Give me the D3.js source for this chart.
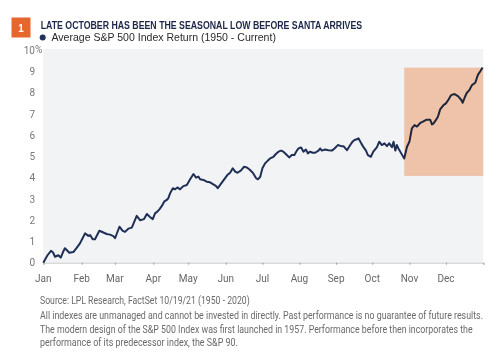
<!DOCTYPE html>
<html><head><meta charset="utf-8">
<script src="https://cdn.jsdelivr.net/npm/d3@7"></script>
<style>
html,body{margin:0;padding:0;background:#fff;}
svg{display:block;}
</style>
</head><body>
<svg id="chart" width="499" height="354"></svg>
<script>
const tradingDay = [0,2.4,4.4,5.6,6.7,8.6,10.0,11.3,12.4,13.4,14.9,17.2,19.1,21.0,22.5,23.9,25.8,26.8,28.3,29.6,32.1,34.4,36.3,38.2,40.1,41.1,43.6,45.5,46.8,48.7,50.7,53.5,55.4,57.7,59.3,61.1,62.7,64.0,65.3,66.5,67.9,69.2,70.7,71.6,72.6,74.2,75.5,76.8,78.3,80.2,82.2,84.1,86.0,87.5,88.8,89.8,91.7,93.6,95.5,97.4,99.0,99.9,101.3,103.6,105.4,107.0,108.5,109.9,111.2,113.1,115.0,116.6,118.1,120.0,121.9,122.9,124.2,125.5,127.0,128.6,129.9,131.8,133.2,134.7,136.2,137.5,138.9,140.8,142.3,143.8,145.2,146.1,147.7,149.0,150.4,151.5,152.8,154.2,155.7,157.6,158.6,159.5,161.4,163.3,165.3,166.8,168.7,170.6,171.9,173.9,175.8,177.1,178.2,179.6,180.5,182.1,183.4,184.8,185.9,187.6,189.0,191.1,192.4,193.9,195.4,196.8,198.1,199.7,200.6,201.6,202.5,203.4,205.0,206.7,208.3,209.7,211.1,212.6,214.0,215.9,217.2,219.3,221.6,222.6,223.5,224.8,226.0,227.3,229.2,230.6,232.1,233.6,235.5,237.5,239.4,240.2,241.5,242.6,243.9,245.5,247.4,248.9,250.3,251.6];
const avgReturn = [0,0.35,0.56,0.48,0.28,0.35,0.24,0.5,0.68,0.6,0.47,0.5,0.7,0.91,1.15,1.38,1.26,1.3,1.1,1.1,1.5,1.42,1.35,1.32,1.25,1.15,1.69,1.5,1.45,1.6,1.65,2.2,2.0,2.05,2.29,2.15,2.05,2.32,2.4,2.51,2.67,2.87,2.95,3.03,3.26,3.5,3.45,3.54,3.45,3.6,3.65,3.92,4.17,4.0,4.05,3.92,3.89,3.81,3.78,3.68,3.6,3.5,3.66,3.92,4.12,4.23,4.44,4.28,4.23,4.33,4.51,4.48,4.38,4.23,3.97,3.92,4.03,4.44,4.67,4.8,4.9,4.98,5.11,5.22,5.27,5.22,5.11,4.95,5.06,5.06,5.27,5.37,5.42,5.22,5.32,5.14,5.22,5.17,5.17,5.27,5.37,5.27,5.32,5.29,5.27,5.37,5.53,5.48,5.48,5.29,5.53,5.69,5.77,5.8,5.85,5.61,5.43,5.27,5.06,4.98,5.22,5.43,5.69,5.53,5.61,5.48,5.61,5.43,5.69,5.27,5.53,5.37,5.14,4.9,5.45,5.69,6.32,6.47,6.4,6.57,6.62,6.72,6.72,6.5,6.55,6.7,6.86,7.21,7.41,7.49,7.67,7.88,7.93,7.83,7.65,7.52,7.8,7.99,8.1,8.35,8.46,8.83,9.0,9.18];
const monthLabels = ["Jan","Feb","Mar","Apr","May","Jun","Jul","Aug","Sep","Oct","Nov","Dec"];
const monthStartDay = [0,22,41,63,83,104.5,125.5,146.7,167.7,188.4,209.7,230.6];
const yearEndDay = 252;
const yTicks = [0,1,2,3,4,5,6,7,8,9,10];
const highlightDays = [206.7, 252];
const highlightRange = [4.08, 9.17];
const titleText = "LATE OCTOBER HAS BEEN THE SEASONAL LOW BEFORE SANTA ARRIVES";
const legendText = "Average S&P 500 Index Return (1950 - Current)";
const footerLines = [
  "Source: LPL Research, FactSet  10/19/21 (1950 - 2020)",
  "All indexes are unmanaged and cannot be invested in directly. Past performance is no guarantee of future results.",
  "The modern design of the S&P 500 Index was first launched in 1957. Performance before then incorporates the",
  "performance of its  predecessor index, the S&P 90."
];

const svg = d3.select("#chart");
const x = d3.scaleLinear().domain([0, yearEndDay]).range([43.3, 483.3]);
const y = d3.scaleLinear().domain([0, 10]).range([262.7, 50]);

// horizontally fit a text element to a target width via scale transform
function fitText(sel, tx, ty, target) {
  const w = sel.node().getComputedTextLength();
  const s = w > 0 ? target / w : 1;
  sel.attr("transform", `translate(${tx},${ty}) scale(${s},1)`);
}

// header
svg.append("rect").attr("x",11.5).attr("y",17.5).attr("width",19).attr("height",20).attr("fill","#E5672E");
svg.append("text").attr("x",21).attr("y",31.5).attr("text-anchor","middle")
  .attr("font-family","Liberation Sans, Arial, sans-serif").attr("font-weight","bold").attr("font-size",10)
  .attr("fill","#fff").text("1");
const title = svg.append("text")
  .attr("font-family","Liberation Sans, Arial, sans-serif").attr("font-weight","bold").attr("font-size",10)
  .attr("fill","#1c2648").text(titleText);
fitText(title, 40.7, 28.5, 322);
svg.append("circle").attr("cx",42.7).attr("cy",37.5).attr("r",3).attr("fill","#1f3157");
const legend = svg.append("text")
  .attr("font-family","Liberation Sans, Arial, sans-serif").attr("font-size",11)
  .attr("fill","#2a2a2a").text(legendText);
fitText(legend, 51.5, 41, 224.5);

// plot background
svg.append("rect").attr("x",x(0)).attr("y",y(10)-1).attr("width",x(yearEndDay)-x(0)).attr("height",y(0)-y(10)+1)
  .attr("fill","#F2F3F5");

// y axis labels
const yAxis = d3.axisLeft(y).tickValues(yTicks).tickSize(0).tickPadding(0).tickFormat(d3.format("d"));
const gy = svg.append("g").attr("transform","translate(35,0)").call(yAxis);
gy.select(".domain").remove();
gy.selectAll("text").attr("font-family","Roboto, sans-serif").attr("font-size",10).attr("fill","#777");
svg.append("text").attr("x",35).attr("y",y(10)).attr("dy","0.32em")
  .attr("font-family","Roboto, sans-serif").attr("font-size",10).attr("fill","#777").text("%");

// x axis
const xAxis = d3.axisBottom(x).tickValues(monthStartDay.concat([yearEndDay])).tickSize(2).tickPadding(0).tickFormat(() => "");
const gx = svg.append("g").attr("transform",`translate(0,${y(0)})`).call(xAxis);
gx.select(".domain").attr("stroke","#c8c8c8").attr("stroke-width",1);
gx.selectAll(".tick line").attr("stroke","#999");
svg.append("g").selectAll("text").data(monthLabels).join("text")
  .attr("x",(d,i)=>x(monthStartDay[i])).attr("y",281.5).attr("text-anchor","middle")
  .attr("font-family","Roboto, sans-serif").attr("font-size",10).attr("fill","#666").text(d=>d);

// line
const pts = tradingDay.map((d,i)=>[d, avgReturn[i]]);
const line = d3.line().x(d=>x(d[0])).y(d=>y(d[1]));
svg.append("path").datum(pts).attr("d",line).attr("fill","none")
  .attr("stroke","#1f2f55").attr("stroke-width",2).attr("stroke-linejoin","round");

// highlight
svg.append("rect").attr("x",x(highlightDays[0])).attr("y",y(highlightRange[1]))
  .attr("width",x(highlightDays[1])-x(highlightDays[0])).attr("height",y(highlightRange[0])-y(highlightRange[1]))
  .attr("fill","#FBCDB1").style("mix-blend-mode","multiply");

// footer
const fy = [303.5, 319, 332.5, 345.5];
const fw = [210, 444, 433, 198];
const fg = svg.append("g");
footerLines.forEach((t,i) => {
  const el = fg.append("text")
    .attr("font-family","Roboto, sans-serif").attr("font-size",10.5).attr("fill","#6a6a6a").text(t);
  fitText(el, 40, fy[i], fw[i]);
});
</script>
</body></html>
